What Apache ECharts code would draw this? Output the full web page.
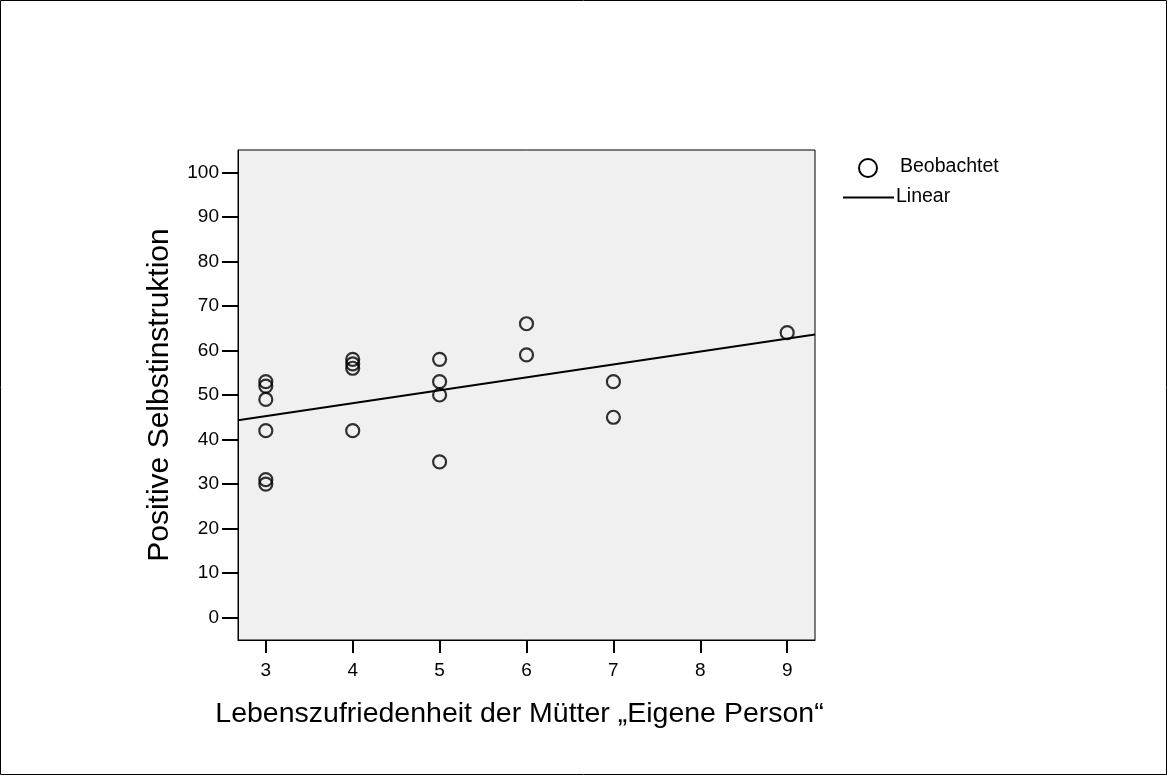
<!DOCTYPE html>
<html>
<head>
<meta charset="utf-8">
<script src="https://cdn.jsdelivr.net/npm/echarts@6/dist/echarts.min.js"></script>
<style>
html,body{margin:0;padding:0;background:#fff;}
#c{width:1168px;height:776px;}
</style>
</head>
<body>
<div id="c"></div>
<script>
// ---- data ----
const xValues = [3,3,3,3,3,3, 4,4,4,4, 5,5,5,5, 6,6, 7,7, 9];
const yValues = [53,52,49,42,31,30, 58,57,56,42, 58,53,50,35, 66,59, 53,45, 64];
const xTicks = [3,4,5,6,7,8,9];
const yTicks = [0,10,20,30,40,50,60,70,80,90,100];
const xTitle = 'Lebenszufriedenheit der Mütter „Eigene Person“';
const yTitle = 'Positive Selbstinstruktion';
const legendLabels = ['Beobachtet', 'Linear'];
const xMin = 2.68, xMax = 9.32, yMin = -5, yMax = 105;

// least-squares fit from the observed data
const n = xValues.length;
const mx = xValues.reduce((a,b)=>a+b,0)/n;
const my = yValues.reduce((a,b)=>a+b,0)/n;
let sxy = 0, sxx = 0;
for (let i=0;i<n;i++){ sxy += (xValues[i]-mx)*(yValues[i]-my); sxx += (xValues[i]-mx)*(xValues[i]-mx); }
const slope = sxy/sxx, intercept = my - slope*mx;
const fitLine = [[xMin, intercept + slope*xMin], [xMax, intercept + slope*xMax]];

const points = xValues.map((x,i)=>[x, yValues[i]]);
const FONT = '"Liberation Sans", Arial, sans-serif';

const chart = echarts.init(document.getElementById('c'), null, {renderer:'canvas'});
chart.setOption({
  backgroundColor: '#ffffff',
  animation: false,
  grid: {
    left: 238, top: 150, right: 353, bottom: 136,
    show: true, backgroundColor: '#f0f0f0', borderColor: '#000', borderWidth: 1,
    containLabel: false
  },
  xAxis: {
    type: 'value', min: xMin, max: xMax,
    name: xTitle, nameLocation: 'middle', nameGap: 60,
    nameTextStyle: {fontFamily: FONT, fontSize: 28.5, color: '#000', padding: [0, 14, 0, 0]},
    axisLine: {show: true, onZero: false, lineStyle: {color: '#000', width: 1}},
    axisTick: {show: true, customValues: xTicks, length: 13, lineStyle: {color: '#000', width: 2}},
    axisLabel: {customValues: xTicks, margin: 21, fontFamily: FONT, fontSize: 19, color: '#000'},
    splitLine: {show: false}
  },
  yAxis: {
    type: 'value', min: yMin, max: yMax,
    name: yTitle, nameLocation: 'middle', nameGap: 63,
    nameTextStyle: {fontFamily: FONT, fontSize: 30, color: '#000'},
    axisLine: {show: true, onZero: false, lineStyle: {color: '#000', width: 1}},
    axisTick: {show: true, customValues: yTicks, length: 16, lineStyle: {color: '#000', width: 2}},
    axisLabel: {customValues: yTicks, margin: 19, fontFamily: FONT, fontSize: 19, color: '#000'},
    splitLine: {show: false}
  },
  series: [
    {
      name: legendLabels[0], type: 'scatter', data: points,
      symbol: 'circle', symbolSize: 13,
      itemStyle: {color: 'rgba(0,0,0,0)', borderColor: '#000', borderWidth: 2.2},
      z: 3
    },
    {
      name: legendLabels[1], type: 'line', data: fitLine,
      showSymbol: false, symbol: 'none',
      lineStyle: {color: '#000', width: 2},
      z: 2
    }
  ],
  graphic: [
    {type: 'rect', shape: {x: 0.5, y: 0.5, width: 1166, height: 774}, style: {fill: null, stroke: '#000', lineWidth: 1}, silent: true},
    {type: 'circle', shape: {cx: 868, cy: 168, r: 9}, style: {fill: null, stroke: '#000', lineWidth: 2}},
    {type: 'text', left: 900, top: 157, style: {text: legendLabels[0], font: '19.5px ' + FONT, fill: '#000'}},
    {type: 'line', shape: {x1: 843, y1: 197.5, x2: 894, y2: 197.5}, style: {stroke: '#000', lineWidth: 2}},
    {type: 'text', left: 896, top: 187, style: {text: legendLabels[1], font: '19.5px ' + FONT, fill: '#000'}}
  ]
});
</script>
</body>
</html>
